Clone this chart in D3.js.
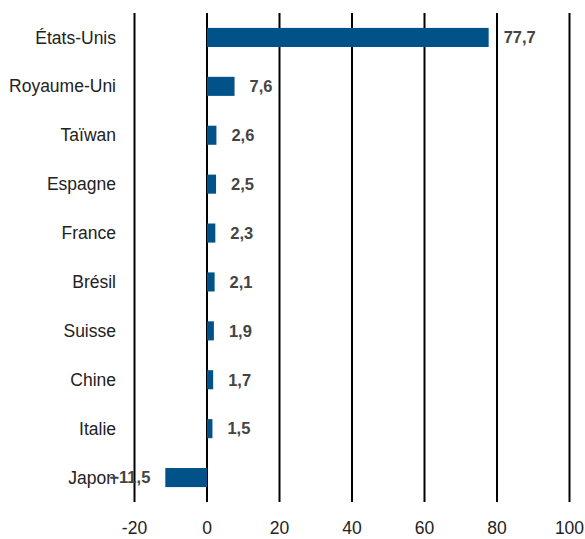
<!DOCTYPE html>
<html>
<head>
<meta charset="utf-8">
<script src="https://cdn.jsdelivr.net/npm/d3@7"></script>
<style>
  body { margin: 0; background: #fff; }
  text { font-family: "Liberation Sans", Arial, sans-serif; }
</style>
</head>
<body>
<svg></svg>
<script>
var countries = ["États-Unis", "Royaume-Uni", "Taïwan", "Espagne", "France", "Brésil", "Suisse", "Chine", "Italie", "Japon"];
var values = [77.7, 7.6, 2.6, 2.5, 2.3, 2.1, 1.9, 1.7, 1.5, -11.5];
var ticks = [-20, 0, 20, 40, 60, 80, 100];

var svgWidth = 585, svgHeight = 539;

var svg = d3.select("svg")
    .attr("width", svgWidth)
    .attr("height", svgHeight);

// x scale: -20 -> 134.5, 100 -> 569.5
var x = d3.scaleLinear()
    .domain([-20, 100])
    .range([134.5, 569.5]);

var y = d3.scaleBand()
    .domain(countries)
    .range([13, 502])
    .paddingInner(0.61)
    .paddingOuter(0.305);

var fmt = function(v) { return d3.format(".1f")(v).replace(".", ","); };

// vertical gridlines
svg.append("g")
    .selectAll("line")
    .data(ticks)
    .enter()
    .append("line")
    .attr("x1", function(d) { return x(d); })
    .attr("x2", function(d) { return x(d); })
    .attr("y1", 13)
    .attr("y2", 502)
    .attr("stroke", "#000")
    .attr("stroke-width", 2);

// tick labels
svg.append("g")
    .selectAll("text")
    .data(ticks)
    .enter()
    .append("text")
    .attr("x", function(d) { return x(d); })
    .attr("y", 534)
    .attr("text-anchor", "middle")
    .attr("font-size", 17.5)
    .attr("fill", "#222")
    .text(function(d) { return d; });

// bars
svg.append("g")
    .selectAll("rect")
    .data(values)
    .enter()
    .append("rect")
    .attr("x", function(d) { return x(Math.min(0, d)); })
    .attr("y", function(d, i) { return y(countries[i]); })
    .attr("width", function(d) { return Math.abs(x(d) - x(0)); })
    .attr("height", y.bandwidth())
    .attr("fill", "#005288");

// category labels
svg.append("g")
    .selectAll("text")
    .data(countries)
    .enter()
    .append("text")
    .attr("x", 116)
    .attr("y", function(d) { return y(d) + y.bandwidth() / 2; })
    .attr("dy", "0.35em")
    .attr("text-anchor", "end")
    .attr("font-size", 17.5)
    .attr("fill", "#222")
    .text(function(d) { return d; });

// value labels
svg.append("g")
    .selectAll("text")
    .data(values)
    .enter()
    .append("text")
    .attr("x", function(d) { return d >= 0 ? x(d) + 15 : x(d) - 15; })
    .attr("y", function(d, i) { return y(countries[i]) + y.bandwidth() / 2; })
    .attr("dy", "0.35em")
    .attr("text-anchor", function(d) { return d >= 0 ? "start" : "end"; })
    .attr("font-size", 16.5)
    .attr("font-weight", "bold")
    .attr("fill", "#444")
    .text(function(d) { return fmt(d); });
</script>
</body>
</html>
